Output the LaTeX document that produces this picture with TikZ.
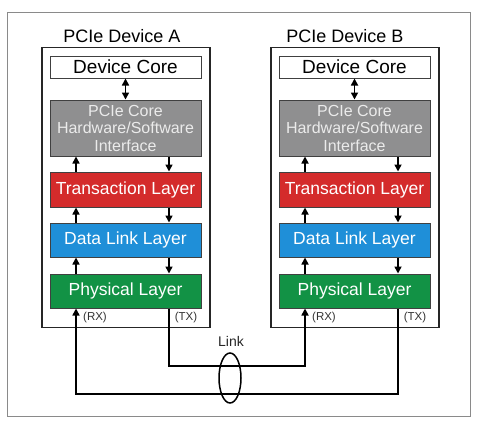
\documentclass[tikz,border=0pt]{standalone}
\usepackage{fontspec}
\setmainfont{Liberation Sans}
\usetikzlibrary{shapes.geometric,arrows.meta,calc}
\definecolor{pgray}{HTML}{8F8F90}
\definecolor{pred}{HTML}{D42B2B}
\definecolor{pblue}{HTML}{1F8FD8}
\definecolor{pgreen}{HTML}{129245}
\definecolor{frame}{HTML}{8A8A8A}
\tikzset{
  devbox/.style={draw=black!85, line width=1.4pt, minimum width=168pt, minimum height=280pt, inner sep=0pt},
  layer/.style={draw=black!75, line width=1pt, minimum width=151pt, inner sep=0pt, text=white, font=\fontsize{17.5}{19}\selectfont},
  corebox/.style={layer, fill=white, text=black, minimum height=22pt, font=\fontsize{19}{21}\selectfont},
  hwbox/.style={layer, fill=pgray, text=white!92!black, minimum height=56pt, align=center, font=\fontsize{16}{17.5}\selectfont},
  tlbox/.style={layer, fill=pred, minimum height=35pt},
  dlbox/.style={layer, fill=pblue, minimum height=34pt},
  phbox/.style={layer, fill=pgreen, minimum height=34pt},
  title/.style={font=\fontsize{18}{20}\selectfont, anchor=base},
  small/.style={font=\fontsize{11.5}{13}\selectfont, text=black!80},
  arr/.style={line width=1.6pt, -{Triangle[length=7pt,width=7pt]}},
  darr/.style={line width=1.6pt, {Triangle[length=7pt,width=7pt]}-{Triangle[length=7pt,width=7pt]}},
  wire/.style={line width=1.6pt}
}
\begin{document}
\begin{tikzpicture}[x=1pt,y=-1pt]
\useasboundingbox (0,0) rectangle (489,423);
\node[draw=frame, line width=1pt, minimum width=463pt, minimum height=404pt, inner sep=0pt] (frm) at (238.5,214) {};

% Device A
\node[devbox] (devA) at (125.9,187.7) {};
\node[title] (tA) at (122,42) {PCIe Device A};
\node[corebox] (cA) at (125.5,67) {Device Core};
\node[hwbox] (hA) at (125.5,128) {PCIe Core\\Hardware/Software\\Interface};
\node[tlbox] (trA) at (125.5,189.5) {Transaction Layer};
\node[dlbox] (dlA) at (125.5,240) {Data Link Layer};
\node[phbox] (phA) at (125.5,291) {Physical Layer};

% Device B
\node[devbox] (devB) at (354.9,187.7) {};
\node[title] (tB) at (345,42) {PCIe Device B};
\node[corebox] (cB) at (354.5,67) {Device Core};
\node[hwbox] (hB) at (354.5,128) {PCIe Core\\Hardware/Software\\Interface};
\node[tlbox] (trB) at (354.5,189.5) {Transaction Layer};
\node[dlbox] (dlB) at (354.5,240) {Data Link Layer};
\node[phbox] (phB) at (354.5,291) {Physical Layer};

% column coordinates
\coordinate (lA) at (76,0);
\coordinate (rA) at (169,0);
\coordinate (lB) at (305,0);
\coordinate (rB) at (398,0);
\coordinate (ym) at (0,366);
\coordinate (yb) at (0,394);

% internal arrows A
\draw[darr] (cA.south) -- (hA.north);
\draw[arr] (trA.north -| lA) -- (hA.south -| lA);
\draw[arr] (hA.south -| rA) -- (trA.north -| rA);
\draw[arr] (dlA.north -| lA) -- (trA.south -| lA);
\draw[arr] (trA.south -| rA) -- (dlA.north -| rA);
\draw[arr] (phA.north -| lA) -- (dlA.south -| lA);
\draw[arr] (dlA.south -| rA) -- (phA.north -| rA);

% internal arrows B
\draw[darr] (cB.south) -- (hB.north);
\draw[arr] (trB.north -| lB) -- (hB.south -| lB);
\draw[arr] (hB.south -| rB) -- (trB.north -| rB);
\draw[arr] (dlB.north -| lB) -- (trB.south -| lB);
\draw[arr] (trB.south -| rB) -- (dlB.north -| rB);
\draw[arr] (phB.north -| lB) -- (dlB.south -| lB);
\draw[arr] (dlB.south -| rB) -- (phB.north -| rB);

% RX / TX labels
\node[small] (rxA) at (95,318) {(RX)};
\node[small] (txA) at (186,318) {(TX)};
\node[small] (rxB) at (324,318) {(RX)};
\node[small] (txB) at (415,318) {(TX)};

% link wires
\draw[arr] (phA.south -| rA) |- (ym -| lB) -- (phB.south -| lB);
\draw[arr] (phB.south -| rB) |- (yb -| lA) -- (phA.south -| lA);

% link ellipse
\node[ellipse, draw=black, line width=1.5pt, minimum width=22pt, minimum height=50pt, inner sep=0pt] (lnk) at (230,378) {};
\node[font=\fontsize{14}{16}\selectfont, text=black!85] (lnkl) at (231,341) {Link};
\end{tikzpicture}
\end{document}
